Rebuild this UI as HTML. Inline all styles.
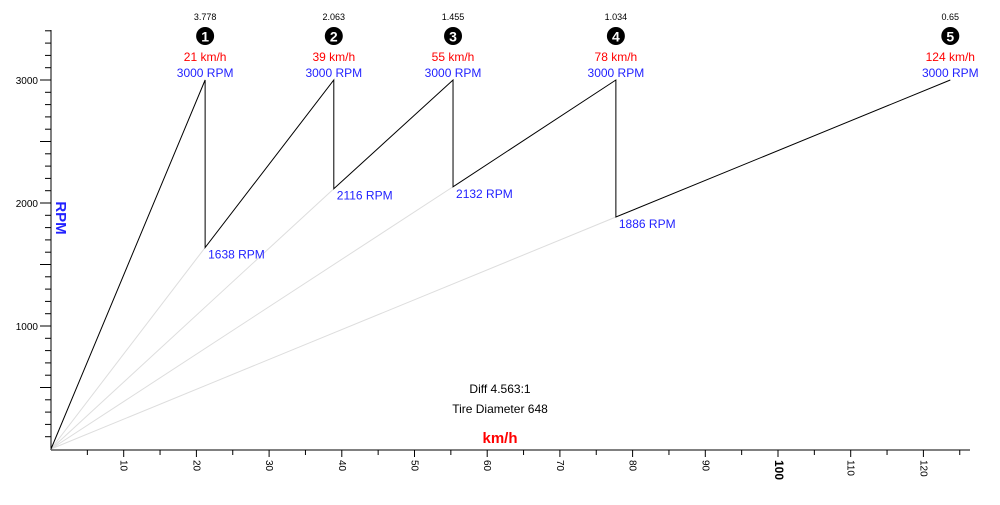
<!DOCTYPE html>
<html><head><meta charset="utf-8"><style>
body{margin:0;background:#fff}
svg{font-family:"Liberation Sans",sans-serif}
</style></head><body>
<svg id="c" width="1000" height="500"></svg>
<script>
const gears=["1","2","3","4","5"];
const ratios=["3.778","2.063","1.455","1.034","0.65"];
const peakSpeeds=[21.2,38.9,55.3,77.7,123.7];
const peakLabels=["21 km/h","39 km/h","55 km/h","78 km/h","124 km/h"];
const peakRpm=[3000,3000,3000,3000,3000];
const dropRpm=[1638,2116,2132,1886];
const xTicks=[10,20,30,40,50,60,70,80,90,100,110,120];
const yTicks=[1000,2000,3000];
const NS="http://www.w3.org/2000/svg";
const svg=document.getElementById('c');
const X=v=>51+v*7.27, Y=r=>449-r*0.123;
function el(t,a,txt){const e=document.createElementNS(NS,t);for(const k in a)e.setAttribute(k,a[k]);if(txt!=null)e.textContent=txt;svg.appendChild(e);return e;}
// axes
let ax=el('line',{x1:51,y1:30,x2:51,y2:450,stroke:'#000'});


ax=el('line',{x1:51,y1:450,x2:970,y2:450,stroke:'#000'});


for(let r=100;r<=3400;r+=100){const major=r%500==0;const t=el('line',{x1:major?40:45,y1:Y(r),x2:51,y2:Y(r),stroke:'#000'});

}
yTicks.forEach(r=>{const t=el('text',{x:38,y:Y(r)+4,'font-size':10,'text-anchor':'end',fill:'#000'},String(r));

});
for(let v=5;v<=125;v+=5){const t=el('line',{x1:X(v),y1:450,x2:X(v),y2:v%10==0?457:455,stroke:'#000'});

}
xTicks.forEach(v=>{const t=el('text',{x:0,y:0,'font-size':v==100?12:10,'font-weight':v==100?'bold':'normal',transform:`translate(${X(v)-3},460) rotate(90)`,fill:'#000'},String(v));

});
// gray lines
dropRpm.forEach((r,i)=>{const l=el('line',{x1:X(0),y1:Y(0),x2:X(peakSpeeds[i]),y2:Y(r),stroke:'#ddd'});

});
// black saw
let d=`M${X(0)},${Y(0)} L${X(peakSpeeds[0])},${Y(peakRpm[0])}`;
for(let i=1;i<gears.length;i++){d+=` L${X(peakSpeeds[i-1])},${Y(dropRpm[i-1])} L${X(peakSpeeds[i])},${Y(peakRpm[i])}`;}
const p=el('path',{d:d,fill:'none',stroke:'#000','stroke-width':1});


gears.forEach((g,i)=>{const x=X(peakSpeeds[i]);
let t=el('text',{x:x,y:20,'font-size':9,'text-anchor':'middle',fill:'#000'},ratios[i]);


const c=el('circle',{cx:x,cy:36,r:9,fill:'#000'});


t=el('text',{x:x,y:41.5,'font-size':14,'font-weight':'bold','text-anchor':'middle',fill:'#fff'},g);


t=el('text',{x:x,y:61,'font-size':12,'text-anchor':'middle',fill:'#f00'},peakLabels[i]);


t=el('text',{x:x,y:77,'font-size':12,'text-anchor':'middle',fill:'#22f'},peakRpm[i]+" RPM");


if(i<dropRpm.length){t=el('text',{x:x+3,y:Y(dropRpm[i])+11,'font-size':12,fill:'#22f'},dropRpm[i]+" RPM");

}
});
let t=el('text',{x:500,y:393,'font-size':12,'text-anchor':'middle',fill:'#000'},"Diff 4.563:1");


t=el('text',{x:500,y:413,'font-size':12,'text-anchor':'middle',fill:'#000'},"Tire Diameter 648");


t=el('text',{x:500,y:443,'font-size':15,'font-weight':'bold','text-anchor':'middle',fill:'#f00'},"km/h");


t=el('text',{x:0,y:0,'font-size':15,'font-weight':'bold','text-anchor':'middle',fill:'#22f',transform:'translate(56,218) rotate(90)'},"RPM");


</script>
</body></html>
